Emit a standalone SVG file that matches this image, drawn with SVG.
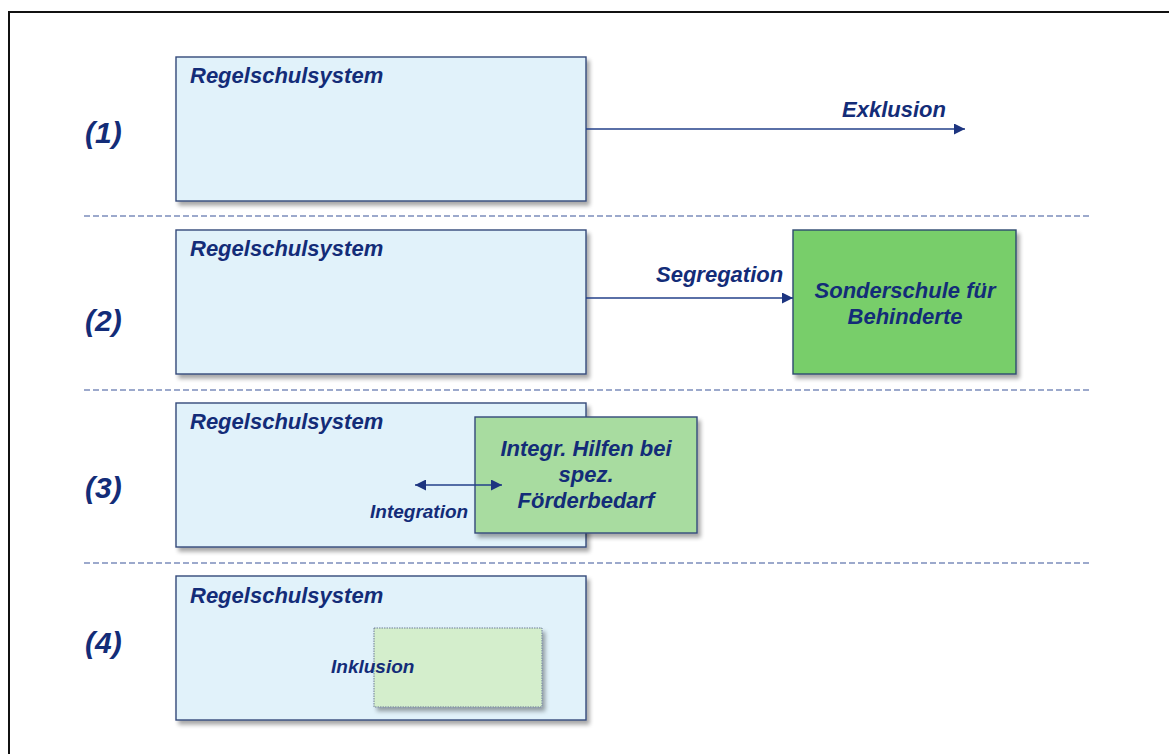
<svg xmlns="http://www.w3.org/2000/svg" width="1169" height="754" viewBox="0 0 1169 754">
<style>
.t{font-family:"Liberation Sans",Arial,sans-serif;font-weight:bold;font-style:italic;fill:#132c78}
.reg{font-size:22px}
.num{font-size:30px}
.lbl{font-size:22px}
.sm{font-size:19px}
.box{fill:#e1f2fa;stroke:#34497a;stroke-width:1.4}
.sep{stroke:#3a559a;stroke-width:1.2;stroke-dasharray:6 3}
.conn{stroke:#23408a;stroke-width:1.6;fill:none}
</style>
<defs>
<filter id="sh" x="-10%" y="-10%" width="130%" height="130%">
<feGaussianBlur in="SourceAlpha" stdDeviation="2"/>
<feOffset dx="3" dy="4" result="b"/>
<feComponentTransfer><feFuncA type="linear" slope="0.35"/></feComponentTransfer>
<feMerge><feMergeNode/><feMergeNode in="SourceGraphic"/></feMerge>
</filter>
<marker id="ah" viewBox="0 0 10 10" refX="10" refY="5" markerWidth="11" markerHeight="11" markerUnits="userSpaceOnUse" orient="auto-start-reverse">
<path d="M0,0 L10,5 L0,10 z" fill="#1d3580"/>
</marker>
</defs>
<rect width="1169" height="754" fill="#ffffff"/>
<path d="M9,754 V12 H1169" fill="none" stroke="#111" stroke-width="2"/>
<g id="separators">
<line class="sep" x1="84" y1="216" x2="1091" y2="216"/>
<line class="sep" x1="84" y1="390" x2="1091" y2="390"/>
<line class="sep" x1="84" y1="563" x2="1091" y2="563"/>
</g>
<g id="row-labels">
<text class="t num" x="85" y="143">(1)</text>
<text class="t num" x="85" y="331">(2)</text>
<text class="t num" x="85" y="498">(3)</text>
<text class="t num" x="85" y="653">(4)</text>
</g>
<g id="node-regel1">
<rect class="box" x="176" y="57" width="410" height="144" filter="url(#sh)"/>
<text class="t reg" x="190" y="83">Regelschulsystem</text>
</g>
<g id="node-regel2">
<rect class="box" x="176" y="230" width="410" height="144" filter="url(#sh)"/>
<text class="t reg" x="190" y="256">Regelschulsystem</text>
</g>
<g id="node-sonderschule">
<rect x="793" y="230" width="223" height="144" fill="#78ce6a" stroke="#2d4a70" stroke-width="1.4" filter="url(#sh)"/>
<text class="t lbl" x="905" y="298" text-anchor="middle">Sonderschule für</text>
<text class="t lbl" x="905" y="324" text-anchor="middle">Behinderte</text>
</g>
<g id="node-regel3">
<rect class="box" x="176" y="403" width="410" height="144" filter="url(#sh)"/>
<text class="t reg" x="190" y="429">Regelschulsystem</text>
</g>
<g id="node-hilfen">
<rect x="475" y="417" width="222" height="116" fill="#a8dca0" stroke="#34497a" stroke-width="1.4" filter="url(#sh)"/>
<text class="t lbl" x="586" y="456" text-anchor="middle">Integr. Hilfen bei</text>
<text class="t lbl" x="586" y="482" text-anchor="middle">spez.</text>
<text class="t lbl" x="586" y="508" text-anchor="middle">Förderbedarf</text>
</g>
<g id="node-regel4">
<rect class="box" x="176" y="576" width="410" height="144" filter="url(#sh)"/>
<text class="t reg" x="190" y="603">Regelschulsystem</text>
</g>
<g id="node-inklusion">
<rect x="374" y="628" width="168" height="79" fill="#d4eecc" stroke="#6c7c96" stroke-width="1" stroke-dasharray="1.5 1" filter="url(#sh)"/>
</g>
<g id="connectors">
<line class="conn" x1="586" y1="129" x2="965" y2="129" marker-end="url(#ah)"/>
<line class="conn" x1="586" y1="298" x2="793" y2="298" marker-end="url(#ah)"/>
<line class="conn" x1="415" y1="485" x2="502" y2="485" marker-start="url(#ah)" marker-end="url(#ah)"/>
</g>
<g id="connector-labels">
<text class="t lbl" x="842" y="117">Exklusion</text>
<text class="t lbl" x="656" y="282">Segregation</text>
<text class="t sm" x="370" y="518">Integration</text>
<text class="t sm" x="331" y="673">Inklusion</text>
</g>
</svg>
